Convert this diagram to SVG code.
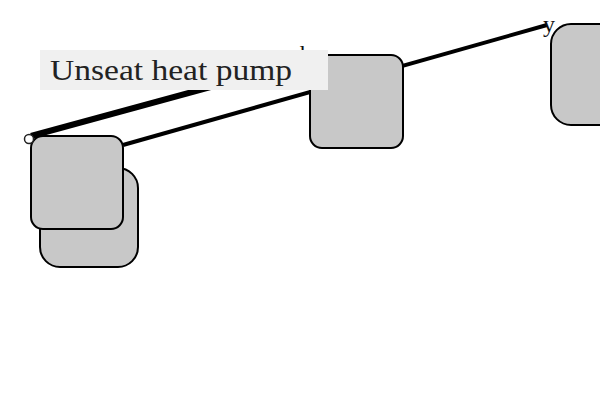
<svg xmlns="http://www.w3.org/2000/svg" width="600" height="400" viewBox="0 0 600 400">
<style>
.node{fill:#c8c8c8;stroke:#000;stroke-width:2}
.edge{fill:none;stroke:#000;stroke-linecap:butt}
.end{font-family:"Liberation Serif","DejaVu Serif",serif;font-size:24px;fill:#111}
.lbl{font-family:"Liberation Serif","DejaVu Serif",serif;font-size:30px;fill:#222}
</style>
<rect width="600" height="400" fill="#fff"/>
<g id="connectors">
<line class="edge" x1="31" y1="136" x2="306" y2="61" stroke-width="6"/>
<text class="end" x="300" y="62">b</text>
<line class="edge" x1="123" y1="145" x2="547" y2="25" stroke-width="4"/>
<text class="end" x="543" y="32">y</text>
</g>
<g id="node-a"><rect class="node" x="40" y="168" width="98" height="99" rx="20"/></g>
<g id="node-b"><rect class="node" x="31" y="136" width="92" height="93" rx="12"/></g>
<circle cx="29" cy="139" r="4.5" fill="#fff" stroke="#222" stroke-width="1.5"/>
<g id="node-c"><rect class="node" x="310" y="55" width="93" height="93" rx="12"/></g>
<g id="node-d"><rect class="node" x="551" y="24" width="80" height="101" rx="20"/></g>
<g id="label">
<rect x="40" y="50" width="288" height="40" fill="#f0f0f0"/>
<text class="lbl" x="50" y="79.5" textLength="242" lengthAdjust="spacingAndGlyphs">Unseat heat pump</text>
</g>
</svg>
